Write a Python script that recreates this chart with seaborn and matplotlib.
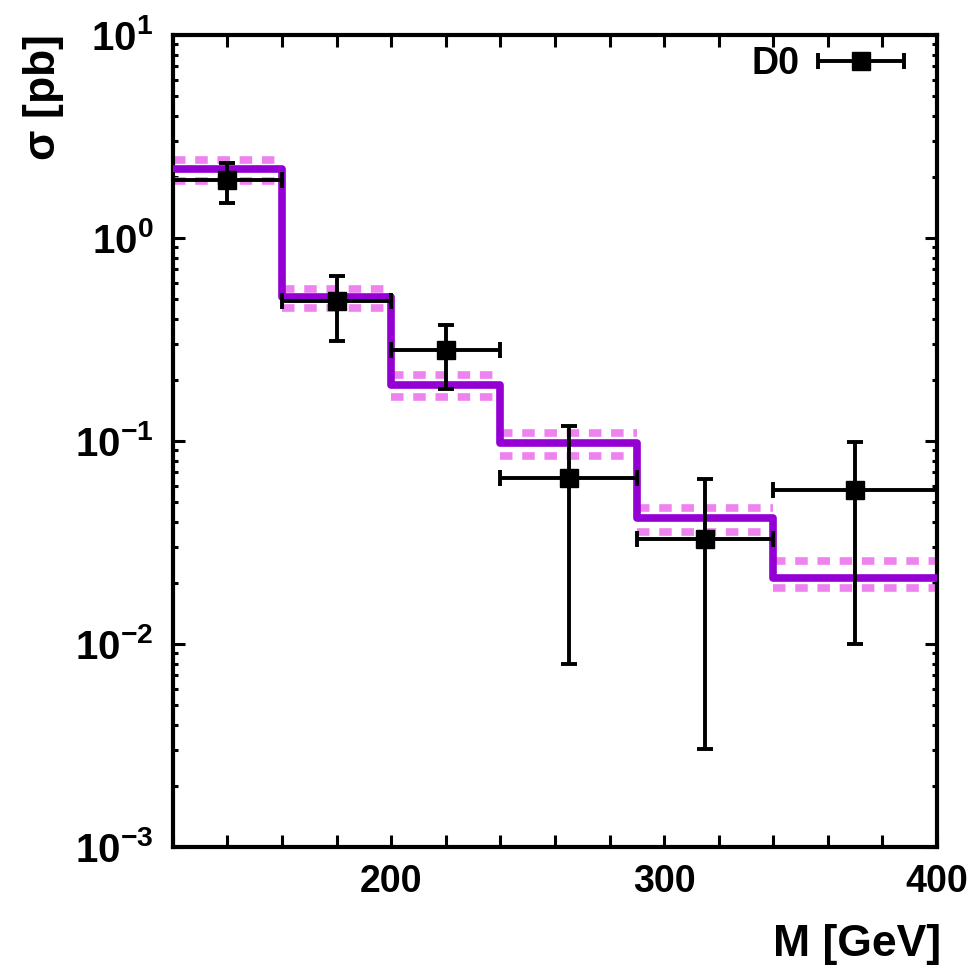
import numpy as np
import seaborn as sns
import matplotlib
matplotlib.use("Agg")
import matplotlib.pyplot as plt
from matplotlib.ticker import MultipleLocator, LogLocator, FixedLocator, FixedFormatter
from matplotlib.legend_handler import HandlerErrorbar

sns.set_style("ticks")
plt.rcParams["font.family"] = ["Liberation Sans", "DejaVu Sans"]
plt.rcParams["font.weight"] = "bold"
plt.rcParams["mathtext.fontset"] = "custom"
plt.rcParams["mathtext.rm"] = "Liberation Sans:bold"
plt.rcParams["mathtext.bf"] = "Liberation Sans:bold"
plt.rcParams["mathtext.it"] = "Liberation Sans:bold"
plt.rcParams["lines.scale_dashes"] = False
plt.rcParams["text.color"] = "black"
plt.rcParams["axes.edgecolor"] = "black"
plt.rcParams["axes.labelcolor"] = "black"
plt.rcParams["xtick.color"] = "black"
plt.rcParams["ytick.color"] = "black"

# theory histogram (bin edges, central value, band)
bin_edges = [120, 160, 200, 240, 290, 340, 400]
theory = [2.19, 0.514, 0.188, 0.0975, 0.0417, 0.0211]
theory_up = [2.42, 0.558, 0.211, 0.109, 0.047, 0.0255]
theory_lo = [1.91, 0.449, 0.165, 0.0843, 0.0356, 0.0188]

# D0 data
d0_x = [140, 180, 220, 265, 315, 370]
d0_xlo = [120, 160, 200, 240, 290, 340]
d0_xhi = [160, 200, 240, 290, 340, 400]
d0_y = [1.92, 0.489, 0.28, 0.0656, 0.0329, 0.057]
d0_ylo = [1.49, 0.31, 0.181, 0.008, 0.00303, 0.01]
d0_yhi = [2.34, 0.649, 0.372, 0.119, 0.0649, 0.0986]

ytick_vals = [1e-3, 1e-2, 1e-1, 1e0, 1e1]
ytick_labels = [r"$\mathbf{10^{-3}}$", r"$\mathbf{10^{-2}}$", r"$\mathbf{10^{-1}}$",
                r"$\mathbf{10^{0}}$", r"$\mathbf{10^{1}}$"]

fig = plt.figure(figsize=(9.71, 9.68), dpi=100)
ax = fig.add_axes([0.178, 0.125, 0.787, 0.839])

edges = np.array(bin_edges)
ax.hlines(theory_up, edges[:-1], edges[1:], colors="violet", linewidth=5.5,
          linestyles=(0, (9, 7)), zorder=2)
ax.hlines(theory_lo, edges[:-1], edges[1:], colors="violet", linewidth=5.5,
          linestyles=(0, (9, 7)), zorder=2)
sns.lineplot(x=edges, y=np.append(theory, theory[-1]), drawstyle="steps-post",
             color="darkviolet", linewidth=5.5, estimator=None, ax=ax, zorder=3)

x = np.array(d0_x)
y = np.array(d0_y)
xerr = [x - np.array(d0_xlo), np.array(d0_xhi) - x]
yerr = [y - np.array(d0_ylo), np.array(d0_yhi) - y]
ax.errorbar(x, y, xerr=xerr, yerr=yerr, fmt="s", color="black", ms=13.5,
            elinewidth=2.8, capsize=5.5, capthick=2.8, zorder=4)

# legend handle: horizontal bar only
h = ax.errorbar([np.nan], [np.nan], xerr=[[1], [1]], fmt="s", color="black", ms=13.5,
                elinewidth=2.8, capsize=5.5, capthick=2.8, label="D0")
ax.legend(handles=[h], handler_map={h: HandlerErrorbar(xerr_size=1.15)},
          loc="upper right", frameon=False, markerfirst=False,
          fontsize=27, handlelength=2.3, handletextpad=0.5,
          borderaxespad=0.0, bbox_to_anchor=(0.977, 1.005))

ax.set_yscale("log")
ax.set_xlim(120, 400)
ax.set_ylim(1e-3, 1e1)

ax.xaxis.set_major_locator(MultipleLocator(100))
ax.xaxis.set_minor_locator(MultipleLocator(20))
ax.yaxis.set_major_locator(FixedLocator(ytick_vals))
ax.yaxis.set_major_formatter(FixedFormatter(ytick_labels))
ax.yaxis.set_minor_locator(LogLocator(base=10, subs=np.arange(2, 10)))

ax.tick_params(which="both", direction="in", top=True, right=True, width=2.2, pad=12)
ax.tick_params(axis="x", which="both", length=8.6, labelsize=27)
ax.tick_params(axis="y", which="major", length=8.6, labelsize=29, pad=14)
ax.tick_params(axis="y", which="minor", length=3.6)
for s in ax.spines.values():
    s.set_linewidth(3)

ax.set_xlabel("M [GeV]", fontsize=32, fontweight="bold", loc="right")
ax.xaxis.set_label_coords(1.005, -0.095)
ax.set_ylabel(r"$\sigma$ [pb]", fontsize=32, fontweight="bold", loc="top")
ax.yaxis.set_label_coords(-0.14, 1.0)

fig.savefig("out.png", dpi=100)
